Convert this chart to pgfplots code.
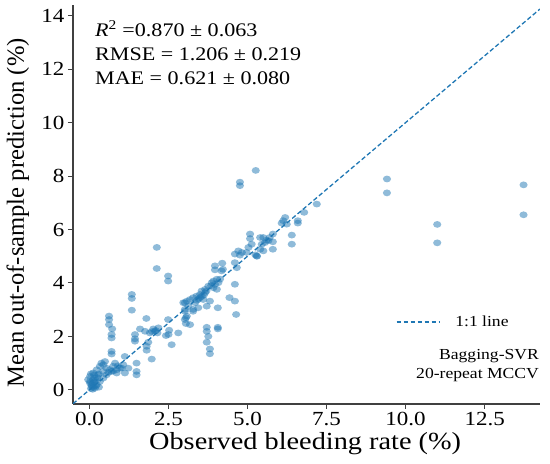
\documentclass[border=0pt]{standalone}
\usepackage{graphicx}
\usepackage{pgfplots}
\pgfplotsset{compat=1.18}
\usepackage{fontspec}
\setmainfont{Liberation Serif}
\definecolor{tabblue}{HTML}{1F77B4}
\newcommand{\sx}[1]{\scalebox{1.15}[1]{#1}}
\pgfplotstableread{
x y
0.02 0.50
0.12 0.63
0.12 0.38
0.02 0.25
0.07 0.19
0.12 0.10
0.23 0.19
0.33 0.31
0.44 0.44
0.54 0.56
0.70 0.69
0.86 0.63
1.02 0.81
0.81 1.00
0.44 0.69
0.28 0.56
0.17 0.44
0.07 0.13
0.17 0.06
0.02 0.31
-0.04 0.38
1.07 0.94
0.97 0.81
0.86 0.75
0.75 0.88
0.65 0.75
0.54 0.81
0.44 0.94
0.33 0.88
0.23 0.75
0.49 1.06
0.38 1.00
1.12 0.63
1.23 0.81
0.10 0.25
0.15 0.30
0.20 0.35
0.05 0.05
0.10 0.02
0.25 0.45
0.30 0.60
0.60 0.65
0.75 0.70
0.90 0.90
0.15 0.55
0.05 0.60
0.20 0.15
0.30 0.10
0.62 2.76
0.62 2.63
0.62 2.44
0.72 2.28
0.70 2.07
0.70 1.94
0.70 1.44
0.70 1.34
1.34 3.57
1.34 3.42
1.34 2.98
1.49 1.00
1.49 0.69
1.49 0.56
1.97 1.15
1.12 1.25
1.80 2.67
1.60 2.28
1.76 2.19
1.91 2.13
2.07 2.19
2.18 2.32
2.15 2.13
2.10 2.22
2.02 2.28
1.98 2.18
1.44 2.07
1.44 1.91
1.44 1.82
1.86 1.78
1.81 1.63
1.81 1.48
2.52 2.23
2.50 2.07
2.42 2.03
2.60 1.69
2.81 2.13
2.49 2.63
2.13 5.33
2.13 4.54
2.49 4.26
2.49 4.07
2.97 3.26
3.13 3.13
3.02 2.94
3.08 2.76
3.02 2.63
3.18 2.44
3.28 2.94
3.44 3.07
3.05 2.70
3.05 2.48
3.02 3.01
4.13 4.14
4.03 4.14
3.92 4.07
4.08 4.01
3.97 3.95
3.87 4.01
3.76 3.88
3.66 3.76
3.55 3.70
3.50 3.57
3.39 3.51
3.28 3.45
3.18 3.38
3.08 3.32
3.02 3.26
3.50 3.45
3.60 3.38
3.66 3.64
3.92 3.82
4.03 3.76
3.81 3.32
3.71 3.13
3.34 3.26
3.28 3.01
3.45 3.40
3.55 3.50
3.40 3.35
3.62 3.55
3.70 3.70
3.85 3.90
4.60 3.95
4.43 3.45
4.60 3.32
4.64 2.82
4.06 3.07
3.71 2.34
4.06 2.34
3.71 2.19
3.76 2.00
3.71 1.78
3.81 1.53
3.81 1.35
4.06 2.28
4.60 4.76
4.66 4.57
4.20 4.74
4.22 4.51
3.97 4.64
3.97 4.49
4.18 4.45
4.71 5.20
4.76 5.04
4.82 5.14
4.60 5.08
4.76 7.77
4.76 7.64
5.26 8.21
5.08 5.83
5.08 5.66
5.13 5.45
5.03 5.33
4.97 5.14
5.50 5.70
5.40 5.70
5.55 5.51
5.45 5.45
5.40 5.26
5.29 5.01
5.50 5.20
5.66 5.58
5.25 5.05
5.30 5.00
5.60 5.60
5.70 5.70
5.80 5.83
5.80 5.54
5.80 5.26
6.40 5.79
6.40 5.45
6.19 6.45
6.13 6.33
6.08 6.24
6.24 6.20
6.59 6.33
6.59 6.24
6.79 6.64
7.19 6.95
9.41 7.89
9.41 7.37
11.00 6.19
11.00 5.50
13.73 7.67
13.73 6.55
}\pts
\begin{document}
\begin{tikzpicture}
\begin{axis}[
  at={(0,0)}, anchor=south west,
  scale only axis, width=467pt, height=399pt,
  xmin=-0.52, xmax=14.25, ymin=-0.53, ymax=14.4,
  axis x line=bottom, axis y line=left,
  axis line style={-, line width=1.1pt, draw=black!75},
  tick align=outside, major tick length=5pt,
  tick style={line width=1pt, draw=black!75},
  xtick={0,2.5,5,7.5,10,12.5},
  xticklabels={\sx{0.0},\sx{2.5},\sx{5.0},\sx{7.5},\sx{10.0},\sx{12.5}},
  ytick={0,2,4,6,8,10,12,14},
  yticklabels={\sx{0},\sx{2},\sx{4},\sx{6},\sx{8},\sx{10},\sx{12},\sx{14}},
  /pgf/number format/assume math mode=true,
  tick label style={font=\fontsize{20}{22}\selectfont},
  xticklabel style={yshift=-2pt, inner sep=1pt},
  xlabel={\sx{Observed bleeding rate (\%)}},
  ylabel={Mean out-of-sample prediction (\%)},
  label style={font=\fontsize{24.6}{28}\selectfont, inner sep=0pt},
  xlabel style={at={(axis description cs:0.497,-0.1)}, anchor=center},
  ylabel style={at={(axis description cs:-0.118,0.479)}, anchor=center},
  legend style={at={(axis description cs:0.6917,0.2055)}, anchor=west,
    draw=none, fill=none, inner sep=0pt, outer sep=0pt,
    font=\fontsize{15.3}{18}\selectfont, column sep=13pt},
  legend image code/.code={\draw[#1] (0pt,0pt) -- (43pt,0pt);},
]
\addplot[only marks, mark=*, mark size=3.4pt,
  mark options={draw=tabblue, fill=tabblue, fill opacity=0.5, draw opacity=0, line width=0pt, xscale=1.2}, forget plot] table[x=x,y=y] {\pts};
\addplot[tabblue, line width=1.3pt, dash pattern=on 4.5pt off 2.5pt] coordinates {(-0.52,-0.52) (14.25,14.25)};
\addlegendentry{\sx{1:1 line}}
\node[anchor=north west, inner sep=0pt, align=left, font=\fontsize{19.2}{24}\selectfont]
  at (axis description cs:0.047,0.962)
  {\sx{\textit{R}\textsuperscript{2} =0.870 ± 0.063}\\\sx{RMSE = 1.206 ± 0.219}\\\sx{MAE = 0.621 ± 0.080}};
\node[anchor=south east, inner sep=0pt, align=right, font=\fontsize{15.3}{19}\selectfont]
  at (axis description cs:0.998,0.055) {\sx{Bagging-SVR}\\\sx{20-repeat MCCV}};
\end{axis}
\pgfresetboundingbox
\path (-73pt,-60pt) rectangle (477pt,404pt);
\end{tikzpicture}
\end{document}
